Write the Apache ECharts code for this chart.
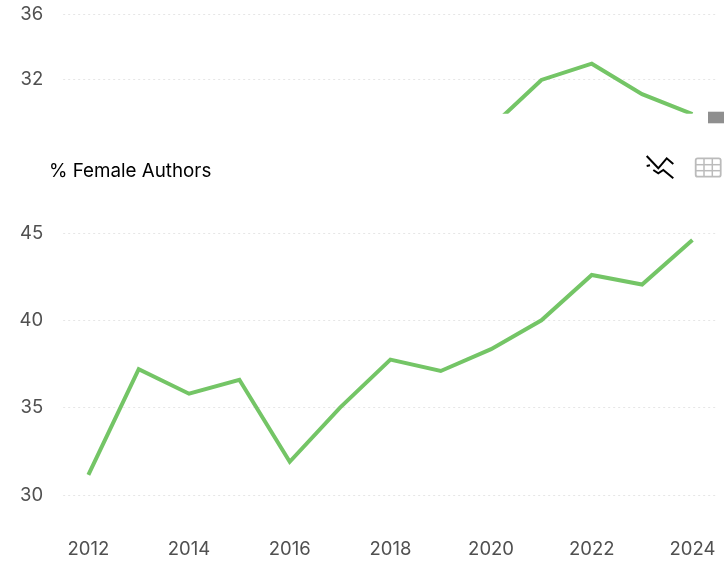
<!DOCTYPE html>
<html><head><meta charset="utf-8">
<style>html,body{margin:0;padding:0;background:#fff}#c{width:724px;height:565px}</style>
<script src="https://cdn.jsdelivr.net/npm/echarts@6/dist/echarts.min.js"></script>
</head><body><div id="c"></div>
<script>
const years = ['2012','2013','2014','2015','2016','2017','2018','2019','2020','2021','2022','2023','2024'];
const upperValues = [null,null,null,null,null,null,null,null,29.05,31.95,32.95,31.08,29.85];
const lowerValues = [31.15,37.2,35.8,36.6,31.9,35,37.75,37.1,38.35,40,42.6,42.05,44.6];
const upperTicks = [32,36];
const title = '% Female Authors';

const font = 'Inter';
const green = '#74c566';
const split = {show:true,lineStyle:{color:'#e6e6e6',type:[2,3],width:1}};
const chart = echarts.init(document.getElementById('c'),null,{renderer:'canvas'});
const line = (i,d)=>({type:'line',xAxisIndex:i,yAxisIndex:i,data:d,showSymbol:false,symbol:'none',
  lineStyle:{color:green,width:4,join:'miter'},silent:true,animation:false,connectNulls:false});
const labelStyle = {fontFamily:font,fontSize:18.5,color:'#505050'};
const stroke = (points,color,width)=>({type:'polyline',shape:{points},style:{stroke:color,lineWidth:width,fill:null},silent:true});
chart.setOption({
  animation:false,
  title:{text:title,left:44,top:157,textStyle:{fontFamily:font,fontSize:18.8,fontWeight:400,color:'#000'}},
  grid:[
    {left:63.2,right:6.4,top:14,height:97.7},
    {left:63.2,right:6.4,top:233,height:262}
  ],
  xAxis:[
    {gridIndex:0,type:'category',data:years,show:false},
    {gridIndex:1,type:'category',data:years,axisLine:{show:false},axisTick:{show:false},
     axisLabel:Object.assign({margin:44.5,interval:1},labelStyle)}
  ],
  yAxis:[
    {gridIndex:0,type:'value',min:30,max:36,axisLine:{show:false},
     axisTick:{show:false,customValues:upperTicks},splitLine:split,
     axisLabel:Object.assign({customValues:upperTicks,margin:20,padding:[11,0,0,0]},labelStyle)},
    {gridIndex:1,type:'value',min:30,max:45,interval:5,axisLine:{show:false},axisTick:{show:false},splitLine:split,
     axisLabel:Object.assign({margin:20,padding:[10,0,0,0]},labelStyle)}
  ],
  series:[line(0,upperValues),line(1,lowerValues)],
  graphic:[
    {type:'rect',shape:{x:708,y:111.7,width:16,height:11.6},style:{fill:'#8f8f8f'},silent:true},
    stroke([[646.7,156],[658.3,168.3],[666.7,158.3],[673.3,164]],'#000',2),
    stroke([[646.7,166],[650,165.3]],'#000',2),
    stroke([[653.3,170],[658.3,173.3],[663.3,170],[673.3,178.3]],'#000',2),
    {type:'rect',shape:{x:695.7,y:158.3,width:25,height:18.4,r:2},style:{fill:null,stroke:'#bbb',lineWidth:1.8},silent:true},
    stroke([[704,158.3],[704,176.7]],'#bbb',1.5),
    stroke([[712.3,158.3],[712.3,176.7]],'#bbb',1.5),
    stroke([[695.7,164.7],[720.7,164.7]],'#bbb',1.5),
    stroke([[695.7,170.7],[720.7,170.7]],'#bbb',1.5)
  ]
});
</script></body></html>
